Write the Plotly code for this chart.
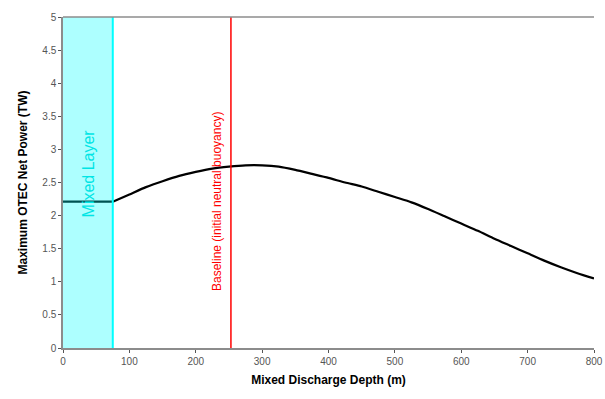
import plotly.graph_objects as go

depth = [0, 75, 100, 125, 150, 175, 200, 225, 250, 275, 300, 325, 350, 375, 400, 425, 450,
         475, 500, 525, 550, 575, 600, 625, 650, 675, 700, 725, 750, 775, 800]
power = [2.21, 2.21, 2.32, 2.43, 2.52, 2.60, 2.66, 2.71, 2.74, 2.76, 2.76, 2.74, 2.69, 2.63,
         2.57, 2.50, 2.44, 2.36, 2.28, 2.20, 2.10, 1.99, 1.88, 1.77, 1.65, 1.54, 1.43, 1.32,
         1.22, 1.13, 1.05]

mixed_layer_depth = 75
baseline_depth = 253
x_ticks = [0, 100, 200, 300, 400, 500, 600, 700, 800]
y_ticks = [0, 0.5, 1, 1.5, 2, 2.5, 3, 3.5, 4, 4.5, 5]

fig = go.Figure()
# flat part inside the mixed layer
fig.add_trace(go.Scatter(x=depth[:2], y=power[:2], mode="lines",
                         line=dict(color="black", width=2.2), showlegend=False))
# curve below the mixed layer
fig.add_trace(go.Scatter(x=depth[1:], y=power[1:], mode="lines",
                         line=dict(color="black", width=2.2, shape="spline", smoothing=0.6),
                         showlegend=False))

# mixed layer shading (drawn above the line, semi-transparent)
fig.add_shape(type="rect", x0=0, x1=mixed_layer_depth, y0=0, y1=5, xref="x", yref="y",
              fillcolor="rgba(0,255,255,0.32)", line=dict(width=0), layer="above")
fig.add_shape(type="line", x0=mixed_layer_depth, x1=mixed_layer_depth, y0=0, y1=5,
              xref="x", yref="y", line=dict(color="#00FFFF", width=2), layer="above")
fig.add_shape(type="line", x0=baseline_depth, x1=baseline_depth, y0=0, y1=5,
              xref="x", yref="y", line=dict(color="#FF0000", width=1.5), layer="above")

fig.add_annotation(x=38, y=2.64, text="Mixed Layer", textangle=-90, showarrow=False,
                   font=dict(family="Liberation Sans, Arial", size=16, color="#00E5E5"))
fig.add_annotation(x=232, y=2.22, text="Baseline (initial neutral buoyancy)", textangle=-90,
                   showarrow=False,
                   font=dict(family="Liberation Sans, Arial", size=12, color="#FF0000"))

axis_common = dict(showgrid=False, zeroline=False, showline=True, linecolor="#8c8c8c",
                   linewidth=1.5, ticks="outside", ticklen=3, tickcolor="#555555",
                   automargin=False,
                   tickfont=dict(family="Liberation Sans, Arial", size=10, color="#555555"))

fig.update_xaxes(range=[0, 800], tickvals=x_ticks, mirror=False,
                 title=dict(text="<b>Mixed Discharge Depth (m)</b>", standoff=10,
                            font=dict(family="Liberation Sans, Arial", size=12, color="black")),
                 **axis_common)
fig.update_yaxes(range=[0, 5], tickvals=y_ticks, ticktext=[str(v) for v in y_ticks],
                 title=dict(text="<b>Maximum OTEC Net Power (TW)</b>", standoff=12,
                            font=dict(family="Liberation Sans, Arial", size=12, color="black")),
                 **axis_common)
# top border line
fig.add_shape(type="line", x0=0, x1=1, y0=1, y1=1, xref="paper", yref="paper",
              line=dict(color="#8c8c8c", width=1.5))

fig.update_layout(width=605, height=399, margin=dict(l=63, r=11, t=17, b=51),
                  plot_bgcolor="white", paper_bgcolor="white")

fig.write_html("out.html", config={"displayModeBar": False},
               post_script="document.body.style.margin='0';document.body.style.overflow='hidden';")
